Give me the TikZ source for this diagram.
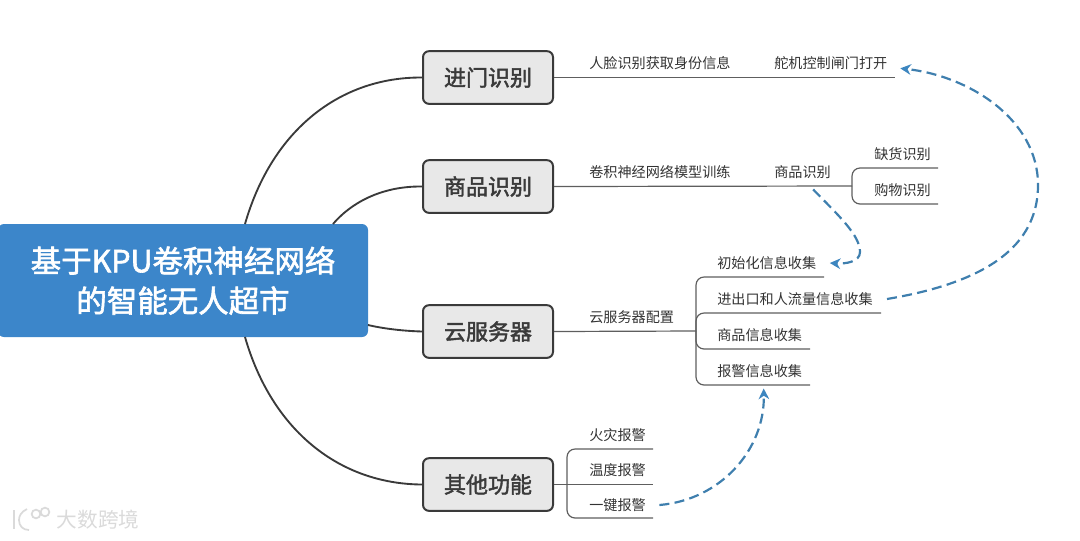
\documentclass[tikz,border=0pt]{standalone}
\usepackage{fontspec}
\setmainfont{Noto Sans CJK SC}
\newfontfamily\headfont[FakeBold=2]{Noto Sans CJK SC}
\usetikzlibrary{arrows.meta}
\definecolor{rootblue}{HTML}{3C86CA}
\definecolor{dashblue}{HTML}{3F7FAE}
\definecolor{tipblue}{HTML}{3D86C0}
\definecolor{boxfill}{HTML}{E8E8E8}
\definecolor{boxline}{HTML}{3A3A3A}
\definecolor{branchline}{HTML}{5E5E5E}
\definecolor{labeltext}{HTML}{333333}
\definecolor{mark}{HTML}{DADADA}
\tikzset{
  rootbox/.style={fill=rootblue,text=white,rounded corners=4.5pt,minimum width=277.5pt,minimum height=84.75pt,inner sep=0pt,align=center,font=\headfont\fontsize{22.85pt}{30pt}\selectfont},
  topicbox/.style={draw=boxline,fill=boxfill,line width=1.5pt,rounded corners=4.5pt,minimum width=97.5pt,minimum height=39.5pt,inner sep=0pt,text=boxline,font=\headfont\fontsize{16.5pt}{18pt}\selectfont},
  leaf/.style={anchor=west,inner sep=0pt,text=labeltext,font=\fontsize{10.6pt}{12pt}\selectfont},
  trunk/.style={draw=boxline,line width=1.4pt},
  branch/.style={draw=branchline,line width=0.9pt,rounded corners=6pt},
  link/.style={draw=dashblue,line width=1.65pt,dash pattern=on 7.5pt off 4pt,-{Stealth[length=8pt,width=8pt,color=tipblue]}},
  wmark/.style={draw=mark,line width=1.3pt}
}
\begin{document}
\begin{tikzpicture}[x=0.75pt,y=-0.75pt]
\useasboundingbox (0,0) rectangle (1080,540);
% root
\node[rootbox] (root) at (183,280.5) {基于KPU卷积神经网络\\的智能无人超市};
% topics
\node[topicbox] (door) at (488,77.5) {进门识别};
\node[topicbox] (goods) at (488,186.5) {商品识别};
\node[topicbox] (cloud) at (488,331.5) {云服务器};
\node[topicbox] (other) at (488,484.5) {其他功能};
% trunks
\coordinate (r1) at (245,224);
\coordinate (r2) at (333,224);
\coordinate (r3) at (368,325);
\coordinate (r4) at (245,337);
\draw[trunk] (r1) .. controls (272,130) and (340,77) .. (door.west);
\draw[trunk] (r2) .. controls (350,204) and (380,186) .. (goods.west);
\draw[trunk] (r3) .. controls (385,329) and (405,331) .. (cloud.west);
\draw[trunk] (r4) .. controls (272,431) and (340,484) .. (other.west);
% labels
\node[leaf] (face) at (589,63) {人脸识别获取身份信息};
\node[leaf] (gate) at (774,63) {舵机控制闸门打开};
\node[leaf] (train) at (589,172) {卷积神经网络模型训练};
\node[leaf] (gitem) at (774,172) {商品识别};
\node[leaf] (lack) at (874,154) {缺货识别};
\node[leaf] (shop) at (874,190) {购物识别};
\node[leaf] (conf) at (589,317) {云服务器配置};
\node[leaf] (init) at (717,263) {初始化信息收集};
\node[leaf] (flow) at (717,299) {进出口和人流量信息收集};
\node[leaf] (ginfo) at (717,335) {商品信息收集};
\node[leaf] (ainfo) at (717,371) {报警信息收集};
\node[leaf] (fire) at (589,435) {火灾报警};
\node[leaf] (temp) at (589,470) {温度报警};
\node[leaf] (key) at (589,505) {一键报警};
% branch ends
\coordinate (e1) at (895,77.5);
\coordinate (j2) at (852,186);
\coordinate (e2a) at (938,168);
\coordinate (e2b) at (938,204);
\coordinate (j3) at (696,331);
\coordinate (e3a) at (824,277);
\coordinate (e3b) at (881,313);
\coordinate (e3c) at (810,349);
\coordinate (e3d) at (810,385);
\coordinate (j4) at (567,484.5);
\coordinate (e4a) at (653,449);
\coordinate (e4b) at (653,484.5);
\coordinate (e4c) at (653,518);
\draw[branch] (door.east) -- (e1);
\draw[branch] (goods.east) -- (j2);
\draw[branch] (j2) |- (e2a);
\draw[branch] (j2) |- (e2b);
\draw[branch] (cloud.east) -- (j3);
\draw[branch] (j3) |- (e3a);
\draw[branch] (j3) |- (e3b);
\draw[branch] (j3) |- (e3c);
\draw[branch] (j3) |- (e3d);
\draw[branch] (other.east) -- (e4b);
\draw[branch] (j4) |- (e4a);
\draw[branch] (j4) |- (e4c);
% dashed links
\draw[link] ([xshift=10.5pt]flow.east) .. controls (970,285) and (1038,255) .. (1038,185) .. controls (1038,120) and (970,76) .. ([xshift=9.5pt,yshift=-4pt]gate.east);
\draw[link] ([xshift=8pt,yshift=-8pt]gitem.south) .. controls (838,215) and (860,235) .. (860,252) .. controls (860,262) and (845,264) .. ([xshift=10pt]init.east);
\draw[link] ([xshift=10pt]key.east) .. controls (720,500) and (765,450) .. ([xshift=3pt,yshift=-8pt]ainfo.south);
% watermark
\node[inner sep=0pt,text=mark,font=\fontsize{15.5pt}{18pt}\selectfont] (wm) at (98,520) {大数跨境};
\coordinate (k1) at (14,510);
\coordinate (k2) at (14,529);
\coordinate (k3) at (27,509);
\coordinate (k4) at (19,520);
\coordinate (k5) at (29,530);
\draw[wmark] (k1) -- (k2);
\draw[wmark] (k3) .. controls (21,512) and (19,516) .. (k4) .. controls (19,526) and (23,530) .. (k5);
\node[wmark,circle,minimum size=6.5pt,inner sep=0pt] (o1) at (36,514) {};
\node[wmark,circle,minimum size=6.5pt,inner sep=0pt] (o2) at (45,512) {};
\end{tikzpicture}
\end{document}
